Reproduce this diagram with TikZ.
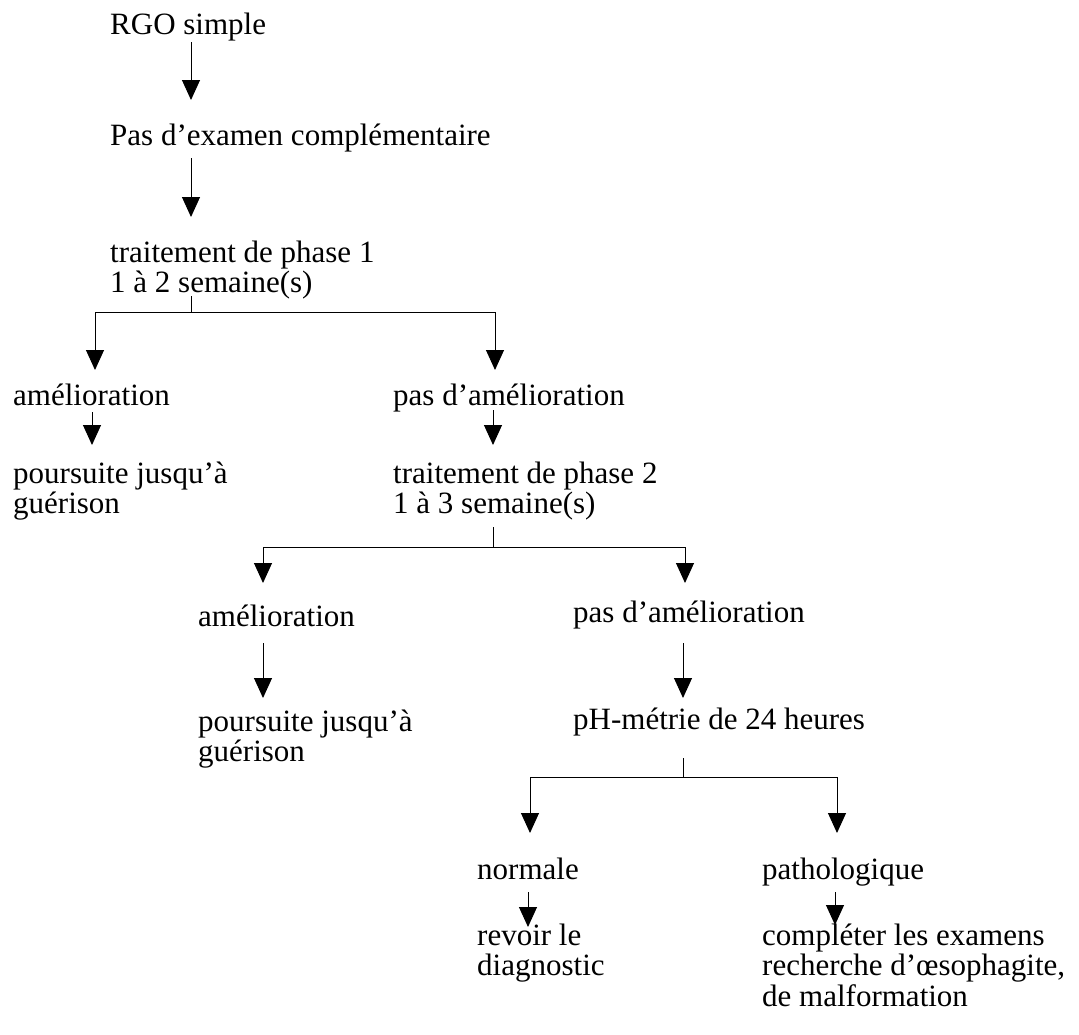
\documentclass[tikz,border=0pt]{standalone}
\usepackage{fontspec}
\setmainfont{Liberation Serif}
\usetikzlibrary{arrows.meta}
\newcommand{\mylines}[1]{\begin{tabular}[t]{@{}l@{}}#1\end{tabular}}
\begin{document}
\begin{tikzpicture}[x=1pt,y=-1pt,
  txt/.style={inner sep=0pt, anchor=base west, font=\fontsize{31}{30}\selectfont},
  ln/.style={line width=1pt},
  arr/.style={line width=1pt, -{Triangle[width=18pt,length=20pt]}}]
\useasboundingbox (0,0) rectangle (1079,1034);
% texts
\node[txt] (rgo)    at (110,34)  {RGO simple};
\node[txt] (pas)    at (110,145) {Pas d’examen complémentaire};
\node[txt] (t1)     at (110,262) {\mylines{traitement de phase 1\\ 1 à 2 semaine(s)}};
\node[txt] (ame1)   at (13,405)  {amélioration};
\node[txt] (pam1)   at (393,405) {pas d’amélioration};
\node[txt] (pours1) at (13,483)  {\mylines{poursuite jusqu’à\\ guérison}};
\node[txt] (t2)     at (393,483) {\mylines{traitement de phase 2\\ 1 à 3 semaine(s)}};
\node[txt] (ame2)   at (198,626) {amélioration};
\node[txt] (pam2)   at (573,622) {pas d’amélioration};
\node[txt] (pours2) at (198,731) {\mylines{poursuite jusqu’à\\ guérison}};
\node[txt] (ph)     at (573,729) {pH-métrie de 24 heures};
\node[txt] (norm)   at (477,879) {normale};
\node[txt] (patho)  at (762,879) {pathologique};
\node[txt] (rev)    at (477,945) {\mylines{revoir le\\ diagnostic}};
\node[txt] (comp)   at (762,945) {\mylines{compléter les examens\\ recherche d’œsophagite,\\ de malformation}};
% columns and junctions
\coordinate (c1) at (191,0);
\coordinate (c2) at (95,0);
\coordinate (c3) at (495,0);
\coordinate (c4) at (92,0);
\coordinate (c5) at (493,0);
\coordinate (c6) at (263,0);
\coordinate (c7) at (685,0);
\coordinate (c8) at (683,0);
\coordinate (c9) at (530,0);
\coordinate (c10) at (837,0);
\coordinate (c11) at (528,0);
\coordinate (c12) at (835,0);
\coordinate (j1) at (191,312);
\coordinate (j2) at (493,547);
\coordinate (j3) at (683,777);
% connectors
\draw[arr] ([yshift=-8pt]c1 |- rgo.base) -- ([yshift=45pt]c1 |- pas.base);
\draw[arr] ([yshift=-13pt]c1 |- pas.base) -- ([yshift=45pt]c1 |- t1.base);
\draw[ln] ([yshift=-34pt]c1 |- t1.base) -- (j1);
\draw[arr] (j1) -| ([yshift=35pt]c2 |- ame1.base);
\draw[arr] (j1) -| ([yshift=35pt]c3 |- pam1.base);
\draw[arr] ([yshift=-7pt]c4 |- ame1.base) -- ([yshift=38pt]c4 |- pours1.base);
\draw[arr] ([yshift=-5pt]c5 |- pam1.base) -- ([yshift=38pt]c5 |- t2.base);
\draw[ln] ([yshift=-44pt]c5 |- t2.base) -- (j2);
\draw[arr] (j2) -| ([yshift=43pt]c6 |- ame2.base);
\draw[arr] (j2) -| ([yshift=39pt]c7 |- pam2.base);
\draw[arr] ([yshift=-17pt]c6 |- ame2.base) -- ([yshift=33pt]c6 |- pours2.base);
\draw[arr] ([yshift=-21pt]c8 |- pam2.base) -- ([yshift=31pt]c8 |- ph.base);
\draw[ln] ([yshift=-29pt]c8 |- ph.base) -- (j3);
\draw[arr] (j3) -| ([yshift=46pt]c9 |- norm.base);
\draw[arr] (j3) -| ([yshift=46pt]c10 |- patho.base);
\draw[arr] ([yshift=-13pt]c11 |- norm.base) -- ([yshift=18pt]c11 |- rev.base);
\draw[arr] ([yshift=-13pt]c12 |- patho.base) -- ([yshift=20pt]c12 |- comp.base);
\end{tikzpicture}
\end{document}
